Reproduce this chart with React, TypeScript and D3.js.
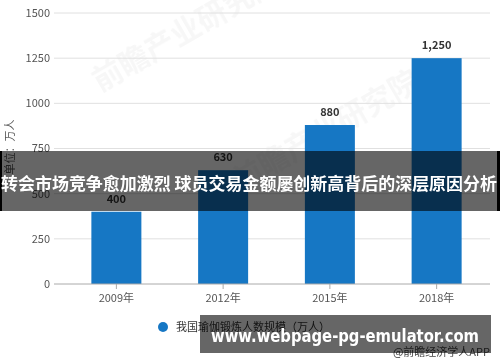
import React from "react";
import * as d3 from "d3";

const categories = ["2009年", "2012年", "2015年", "2018年"];
const values = [400, 630, 880, 1250];
const yTicks = [0, 250, 500, 750, 1000, 1250, 1500];
const seriesName = "我国瑜伽锻炼人数规模（万人）";
const yTitle = "单位：万人";
const sourceText = "@前瞻经济学人APP";
const bannerText = "转会市场竞争愈加激烈 球员交易金额屡创新高背后的深层原因分析";
const siteText = "www.webpage-pg-emulator.com";

const W = 500;
const H = 362;
const FONT = "'Noto Sans CJK SC', 'Noto Sans', sans-serif";

export default function App() {
  const x = d3.scalePoint<string>().domain(categories).range([63, 490]).padding(0.5);
  const y = d3.scaleLinear().domain([0, 1500]).range([284, 13]);
  const barW = 50;
  const fmt = d3.format(",");

  return (
    <svg
      width={W}
      height={H}
      style={{ position: "absolute", left: 0, top: 0, background: "#fff" }}
      fontFamily={FONT}
    >
      {/* watermarks */}
      <g opacity={0.035} fill="#000">
        <text x={0} y={0} fontSize={30} fontWeight="bold" transform="translate(100,92) rotate(-30)">
          前瞻产业研究院
        </text>
        <text x={0} y={0} fontSize={30} fontWeight="bold" transform="translate(240,192) rotate(-30)">
          前瞻产业研究院
        </text>
      </g>

      {/* gridlines */}
      {yTicks.map((t) => (
        <g key={t}>
          {t !== 0 && (
            <line x1={54} x2={490} y1={y(t)} y2={y(t)} stroke="#e0e0e0" strokeWidth={1} />
          )}
          <text x={50} y={y(t)} dy="0.35em" textAnchor="end" fontSize={11} fill="#555">
            {t}
          </text>
        </g>
      ))}

      {/* bars */}
      {categories.map((c, i) => (
        <g key={c}>
          <rect
            x={(x(c) as number) - barW / 2}
            y={y(values[i])}
            width={barW}
            height={y(0) - y(values[i])}
            fill="#1677c4"
          />
          <text
            x={x(c) as number}
            y={y(values[i]) - 9}
            textAnchor="middle"
            fontSize={11}
            fontWeight="bold"
            fill="#333"
          >
            {fmt(values[i])}
          </text>
        </g>
      ))}

      {/* x axis */}
      <line x1={54} x2={490} y1={y(0)} y2={y(0)} stroke="#aaa" strokeWidth={1} />
      {categories.map((c) => (
        <g key={c}>
          <line x1={x(c) as number} x2={x(c) as number} y1={y(0)} y2={y(0) + 5} stroke="#aaa" />
          <text x={x(c) as number} y={y(0) + 18} textAnchor="middle" fontSize={11} fill="#555">
            {c}
          </text>
        </g>
      ))}

      {/* y title */}
      <text
        transform="translate(14,147) rotate(-90)"
        textAnchor="middle"
        fontSize={11}
        fill="#555"
      >
        {yTitle}
      </text>

      {/* legend */}
      <circle cx={163} cy={327} r={5} fill="#1677c4" />
      <text x={176} y={327} dy="0.35em" fontSize={11} fill="#333">
        {seriesName}
      </text>

      {/* source */}
      <text x={490} y={352} dy="0.35em" textAnchor="end" fontSize={11} fill="#444">
        {sourceText}
      </text>

      {/* overlay banner */}
      <rect x={0} y={151} width={500} height={60} fill="rgba(0,0,0,0.6)" />
      <rect x={0} y={151} width={2} height={60} fill="#000" />
      <rect x={497} y={151} width={3} height={60} fill="#000" />
      <text
        x={249}
        y={184}
        dy="0.35em"
        textAnchor="middle"
        fontSize={17}
        fontWeight="bold"
        fill="#fff"
        textLength={496}
        lengthAdjust="spacingAndGlyphs"
      >
        {bannerText}
      </text>

      {/* bottom site banner */}
      <rect x={200} y={315} width={291} height={38} fill="rgba(0,0,0,0.6)" />
      <text
        x={211}
        y={342}
        fontSize={18}
        fontWeight="bold"
        fill="#fff"
        fontFamily="'DejaVu Sans', sans-serif"
        textLength={268}
        lengthAdjust="spacingAndGlyphs"
      >
        {siteText}
      </text>
    </svg>
  );
}
